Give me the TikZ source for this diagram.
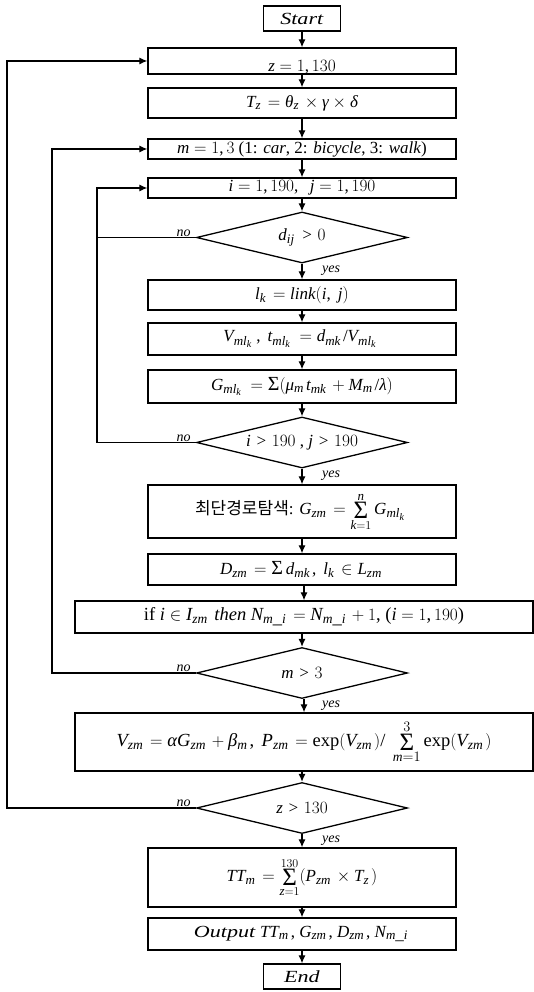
\documentclass[tikz,border=0pt]{standalone}
\usepackage{graphicx}
\usepackage{fontspec}
\setmainfont{Liberation Serif}
\newfontfamily\kr{Noto Sans CJK KR}
\DeclareSymbolFont{letters}{TU}{\rmdefault}{m}{it}
\DeclareMathSizes{17}{17}{13}{10}
\DeclareMathSizes{18.5}{18.5}{13.5}{10}
\Umathchardef\gth="0 \symletters "03B8
\Umathchardef\ggm="0 \symletters "03B3
\Umathchardef\gdl="0 \symletters "03B4
\Umathchardef\gmu="0 \symletters "03BC
\Umathchardef\glm="0 \symletters "03BB
\Umathchardef\gal="0 \symletters "03B1
\Umathchardef\gbt="0 \symletters "03B2
\AtBeginDocument{%
  \Umathcode`\,="6 \symoperators "002C
  \Umathcode`\/="0 \symoperators "002F
  \Umathcode`\.="0 \symoperators "002E
  \scriptspace=2.5pt}
\newcommand\bigsig{\mathop{\mbox{\fontsize{20}{20}\selectfont Σ}}}
\newcommand\limsig{\mathop{\vcenter{\hbox{\fontsize{25}{25}\selectfont Σ}}}\limits}
\newcommand\wideit[1]{\scalebox{1.3}[1]{\textit{#1}}}
\usetikzlibrary{shapes.geometric,arrows.meta}
\tikzset{
  box/.style={draw, line width=1.3pt, inner sep=0pt, minimum width=308pt, font=\fontsize{17}{19}\selectfont},
  widebox/.style={box, minimum width=458pt, font=\fontsize{18.5}{20}\selectfont},
  dec/.style={draw, diamond, line width=1.3pt, inner sep=0pt, aspect=4.1, minimum width=211pt, minimum height=51pt, font=\fontsize{17}{19}\selectfont},
  flow/.style={line width=1.2pt, -{Latex[length=8pt,width=7pt]}},
  rail/.style={line width=1.2pt},
  lbl/.style={font=\itshape\fontsize{14}{15}\selectfont, inner sep=1pt}
}
\begin{document}
\begin{tikzpicture}[x=1pt,y=-1pt]
\useasboundingbox (0,0) rectangle (534,992);
% main column
\node[box, minimum width=77pt, minimum height=25pt] (start) at (302,18.5) {\wideit{Start}};
\node[box, minimum height=26pt, text height=21pt, text depth=0pt] (z) at (302,61) {$z=1,130$};
\node[box, minimum height=30pt] (tz) at (302,103) {$T_z=\gth_z\times\ggm\times\gdl$};
\node[box, minimum height=20pt] (m) at (302,149) {$m=1,3$ (1: \textit{car}, 2: \textit{bicycle}, 3: \textit{walk})};
\node[box, minimum height=20pt] (ij) at (302,188) {$i=1,190,\ \ j=1,190$};
\node[dec] (d1) at (302,237.5) {$d_{ij}>0$};
\node[box, minimum height=30pt] (lk) at (302,295) {$l_k=\mathit{link}(i,\ j)$};
\node[box, minimum height=32pt] (vm) at (302,339) {$V_{ml_k},\ t_{ml_k}=d_{mk}/V_{ml_k}$};
\node[box, minimum height=33pt] (gm) at (302,386.5) {$G_{ml_k}=\bigsig(\gmu_m t_{mk}+M_m/\glm)$};
\node[dec] (d2) at (302,442.5) {$i>190$ , $j>190$};
\node[box, minimum height=53pt] (sp) at (302,511.5) {{\kr 최단경로탐색}: $G_{zm}=\limsig_{k=1}^{n}G_{ml_k}$};
\node[box, minimum height=31pt] (dz) at (302,569.5) {$D_{zm}=\bigsig d_{mk},\ l_k\in L_{zm}$};
\node[widebox, minimum height=32pt] (ifb) at (304,617) {if $i\in I_{zm}$ \textit{then} $N_{m\_i}=N_{m\_i}+1$, ($i=1,190$)};
\node[dec] (d3) at (302,673) {$m>3$};
\node[widebox, minimum height=58pt] (vz) at (304,742) {$V_{zm}=\gal G_{zm}+\gbt_m,\ P_{zm}=\exp(V_{zm})/\ \limsig_{m=1}^{3}\exp(V_{zm})$};
\node[dec] (d4) at (302,808) {$z>130$};
\node[box, minimum height=59pt] (tt) at (302,877.5) {$TT_m=\limsig_{z=1}^{130}(P_{zm}\times T_z)$};
\node[box, minimum height=32pt] (out) at (302,934) {\wideit{Output} $TT_m$, $G_{zm}$, $D_{zm}$, $N_{m\_i}$};
\node[box, minimum width=77pt, minimum height=25pt] (end) at (302,976.5) {\wideit{End}};
% straight arrows
\foreach \a/\b in {start/z, z/tz, tz/m, m/ij, ij/d1, d1/lk, lk/vm, vm/gm, gm/d2, d2/sp, sp/dz, dz/ifb, ifb/d3, d3/vz, vz/d4, d4/tt, tt/out, out/end}
  \draw[flow] (\b.north |- \a.south) -- (\b.north);
% loop rails
\coordinate (rz) at (7,0);
\coordinate (rm) at (52,0);
\coordinate (ri) at (97,0);
\draw[flow] (d4.west) -- (d4.west -| rz) |- (z.west);
\draw[flow] (d3.west) -- (d3.west -| rm) |- (m.west);
\draw[flow] (d2.west) -- (d2.west -| ri) |- (ij.west);
\draw[rail] (d1.west) -- (d1.west -| ri);
% labels
\foreach \d in {d1,d2,d3,d4}{
  \node[lbl, anchor=south east] (no\d) at ([xshift=-4pt]\d.west) {no};
  \node[lbl, anchor=north west] (yes\d) at ([xshift=19pt,yshift=-1pt]\d.south) {yes};
}
\end{tikzpicture}
\end{document}
